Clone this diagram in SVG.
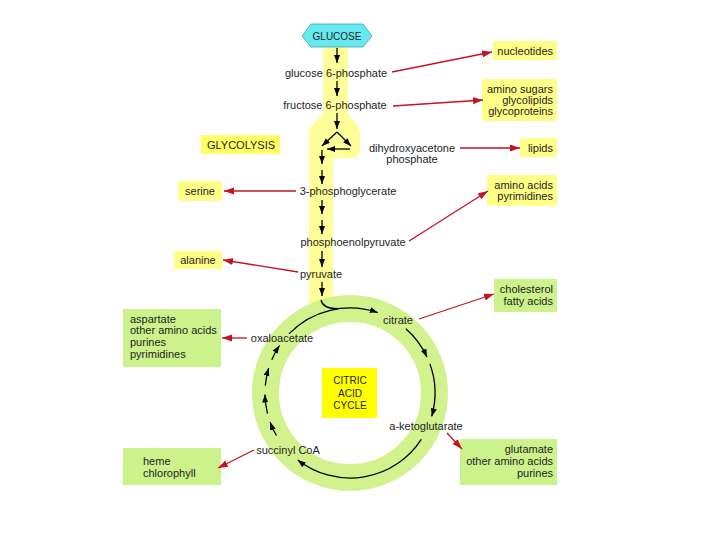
<svg xmlns="http://www.w3.org/2000/svg" width="720" height="540" viewBox="0 0 720 540">
<defs>
<marker id="ab" markerUnits="userSpaceOnUse" markerWidth="9" markerHeight="7" refX="8" refY="3" orient="auto"><path d="M0,0 L8,3 L0,6 Z" fill="#000"/></marker>
<marker id="ar" markerUnits="userSpaceOnUse" markerWidth="11" markerHeight="8" refX="10" refY="3.5" orient="auto"><path d="M0,0 L10,3.5 L0,7 Z" fill="#c41420"/></marker>
<style>
text{font-family:"Liberation Sans",Arial,sans-serif;font-size:11px;fill:#1e1e1e}
.m{text-anchor:middle}
.e{text-anchor:end}
.s10{font-size:10px}
.yb{fill:#ffff88}
.gb{fill:#ccf28c}
.blk{fill:none;stroke:#000;stroke-width:1.3;marker-end:url(#ab)}
.red{fill:none;stroke:#c41420;stroke-width:1.3;marker-end:url(#ar)}
</style>
</defs>
<rect width="720" height="540" fill="#fff"/>
<g id="band">
<path d="M323,40 H348 V110 C348,120 360,122 360,134 V150 Q360,158 352,158 H333 V305 H309 V134 C309,122 323,120 323,110 Z" fill="#ffff99"/>
</g>
<g id="ring">
<circle cx="350" cy="393" r="84.5" fill="none" stroke="#d2f28e" stroke-width="27"/>
</g>
<g id="glucose">
<path d="M302,36 L311,24 L363,24 L372,36 L363,47 L311,47 Z" fill="#66e8f0" stroke="#3aa6b0" stroke-width="0.8"/>
<text class="m s10" x="337" y="39.5">GLUCOSE</text>
</g>
<g id="intermediates">
<text id="g6p" class="m" x="336" y="77">glucose 6-phosphate</text>
<text id="f6p" class="m" x="335" y="109">fructose 6-phosphate</text>
<text id="dhap1" class="m" x="412" y="152">dihydroxyacetone</text>
<text id="dhap2" class="m" x="412" y="163">phosphate</text>
<text id="pg3" class="m" x="348" y="195">3-phosphoglycerate</text>
<text id="pep" class="m" x="353" y="246">phosphoenolpyruvate</text>
<text id="pyr" class="m" x="321" y="278">pyruvate</text>
<text id="cit" class="m" x="398" y="324">citrate</text>
<text id="oaa" class="m" x="282" y="342">oxaloacetate</text>
<text id="akg" class="m" x="426" y="430">a-ketoglutarate</text>
<text id="scoa" class="m" x="288" y="454">succinyl CoA</text>
</g>
<g id="glycolysis-label">
<rect x="201" y="135" width="79" height="19" fill="#ffff66"/>
<text class="m" x="241" y="149">GLYCOLYSIS</text>
</g>
<g id="tca-label">
<rect x="322" y="368" width="55" height="50" fill="#ffff00"/>
<text class="m s10" x="350" y="384">CITRIC</text>
<text class="m s10" x="350" y="397">ACID</text>
<text class="m s10" x="350" y="409">CYCLE</text>
</g>
<g id="nucleotides">
<rect class="yb" x="493" y="41" width="64" height="19"/>
<text class="e" x="553" y="55">nucleotides</text>
</g>
<g id="aminosugars">
<rect class="yb" x="482" y="79" width="75" height="42"/>
<text class="e" x="553" y="93">amino sugars</text>
<text class="e" x="553" y="104">glycolipids</text>
<text class="e" x="553" y="115">glycoproteins</text>
</g>
<g id="lipids">
<rect class="yb" x="520" y="138" width="37" height="19"/>
<text class="e" x="553" y="152">lipids</text>
</g>
<g id="aminoacids">
<rect class="yb" x="487" y="175" width="70" height="31"/>
<text class="e" x="553" y="189">amino acids</text>
<text class="e" x="553" y="200">pyrimidines</text>
</g>
<g id="cholesterol">
<rect class="gb" x="494" y="279" width="63" height="33"/>
<text class="e" x="553" y="293">cholesterol</text>
<text class="e" x="553" y="305">fatty acids</text>
</g>
<g id="glutamate">
<rect class="gb" x="460" y="439" width="97" height="46"/>
<text class="e" x="553" y="453">glutamate</text>
<text class="e" x="553" y="465">other amino acids</text>
<text class="e" x="553" y="477">purines</text>
</g>
<g id="serine">
<rect class="yb" x="178" y="181" width="44" height="20"/>
<text class="m" x="200" y="195">serine</text>
</g>
<g id="alanine">
<rect class="yb" x="174" y="251" width="48" height="18"/>
<text class="m" x="198" y="264">alanine</text>
</g>
<g id="aspartate">
<rect class="gb" x="123" y="309" width="98" height="58"/>
<text x="130" y="323">aspartate</text>
<text x="130" y="334">other amino acids</text>
<text x="130" y="346">purines</text>
<text x="130" y="358">pyrimidines</text>
</g>
<g id="heme">
<rect class="gb" x="123" y="448" width="98" height="37"/>
<text x="143" y="465">heme</text>
<text x="143" y="477">chlorophyll</text>
</g>
<g id="connectors">
<path class="blk" d="M337,48 V63"/>
<path class="blk" d="M337,81 V96"/>
<path class="blk" d="M337,113 V129"/>
<path class="blk" d="M337,132 L322,146"/>
<path class="blk" d="M337,132 L351,146"/>
<path class="blk" d="M350,149 H327"/>
<path class="blk" d="M322,150 V164"/>
<path class="blk" d="M322,170 V184"/>
<path class="blk" d="M322,200 V214"/>
<path class="blk" d="M322,220 V234"/>
<path class="blk" d="M322,251 V267"/>
<path class="blk" d="M322,282 V296"/>
<path fill="none" stroke="#000" stroke-width="1.3" d="M321,300 Q323,309 338,308.5"/>
<path class="blk" d="M288.9,333.9 A85,85 0 0 1 377.7,312.6"/>
<path class="blk" d="M405.8,328.8 A85,85 0 0 1 427.0,357.1"/>
<path class="blk" d="M429.9,363.9 A85,85 0 0 1 431.7,416.4"/>
<path class="blk" d="M421.3,439.3 A85,85 0 0 1 297.7,460.0"/>
<path class="blk" d="M276.4,435.5 A85,85 0 0 1 270.1,422.1"/>
<path class="blk" d="M267.5,413.6 A85,85 0 0 1 265.0,394.5"/>
<path class="blk" d="M265.3,385.6 A85,85 0 0 1 268.7,368.1"/>
<path class="blk" d="M271.8,359.8 A85,85 0 0 1 279.5,345.5"/>
<path class="red" d="M392,72 L492,52"/>
<path class="red" d="M393,106 L483,100"/>
<path class="red" d="M460,148 L520,148"/>
<path class="red" d="M409,241 L488,191"/>
<path class="red" d="M296,191 L224,191"/>
<path class="red" d="M298,272 L223,260"/>
<path class="red" d="M419,319 L494,294"/>
<path class="red" d="M247,338 L222,338"/>
<path class="red" d="M254,450 L218,468"/>
<path class="red" d="M447,433 L462,449"/>
</g>
</svg>
